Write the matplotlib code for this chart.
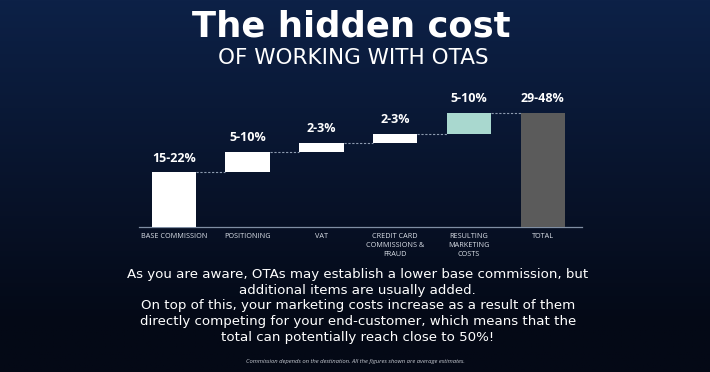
import numpy as np
import matplotlib.pyplot as plt

categories = ["BASE COMMISSION", "POSITIONING", "VAT", "CREDIT CARD\nCOMMISSIONS &\nFRAUD",
              "RESULTING\nMARKETING\nCOSTS", "TOTAL"]
steps = [18.5, 7.0, 3.0, 3.0, 7.0]
range_labels = ["15-22%", "5-10%", "2-3%", "2-3%", "5-10%", "29-48%"]

total = sum(steps)
bottoms = list(np.cumsum([0] + steps[:-1])) + [0]
heights = steps + [total]
colors = ["white", "white", "white", "white", "#a9d8cf", "#5b5b5b"]

W, H = 710, 372
fig = plt.figure(figsize=(W / 100, H / 100), dpi=100)

# background gradient
bg = fig.add_axes([0, 0, 1, 1])
yy = np.linspace(0, 1, 200)[:, None]
xx = np.linspace(0, 1, 300)[None, :]
top = np.array([0x0d, 0x21, 0x47]) / 255
bot = np.array([0x04, 0x09, 0x16]) / 255
t = np.clip(yy * 1.15, 0, 1) + 0 * xx
img = top[None, None, :] * (1 - t[..., None]) + bot[None, None, :] * t[..., None]
bg.imshow(img, aspect="auto", extent=[0, 1, 0, 1], origin="upper")
bg.set_xlim(0, 1)
bg.set_ylim(0, 1)
bg.axis("off")

# titles and body text
fig.text(0.495, 0.93, "The hidden cost", ha="center", va="center", color="white",
         fontsize=25.5, fontweight="bold", family="DejaVu Sans")
fig.text(0.497, 0.843, "OF WORKING WITH OTAS", ha="center", va="center", color="white",
         fontsize=15.5, family="DejaVu Sans")

body = ("As you are aware, OTAs may establish a lower base commission, but\n"
        "additional items are usually added.\n"
        "On top of this, your marketing costs increase as a result of them\n"
        "directly competing for your end-customer, which means that the\n"
        "total can potentially reach close to 50%!")
fig.text(0.504, 0.178, body, ha="center", va="center", color="white",
         fontsize=9.6, family="DejaVu Sans", linespacing=1.27)
fig.text(0.5, 0.027, "Commission depends on the destination. All the figures shown are average estimates.",
         ha="center", va="center", color="#c8ccd4", fontsize=4.2, style="italic",
         family="Open Sans")

# waterfall chart
ax = fig.add_axes([139 / W, (H - 227) / H, (582 - 139) / W, 137 / H])
ax.patch.set_alpha(0)
x = np.arange(len(categories))
ax.bar(x, heights, bottom=bottoms, width=0.6, color=colors, zorder=3)

levels = np.cumsum(steps)
for i, lv in enumerate(levels):
    ax.plot([i + 0.3, i + 0.7], [lv, lv], color="#8d9bb0", lw=0.8, ls=(0, (2, 1.5)), zorder=2)

for i, lab in enumerate(range_labels):
    ax.text(x[i], bottoms[i] + heights[i] + 2.6, lab, ha="center", va="bottom",
            color="white", fontsize=9, fontweight="bold", family="Open Sans")

ax.set_xlim(-0.47, 5.53)
ax.set_ylim(0, 46.3)
ax.set_xticks(x)
ax.set_xticklabels(categories, fontsize=5.2, color="#dbe0e8", family="Open Sans",
                   linespacing=1.4, va="top")
ax.tick_params(axis="x", length=0, pad=4)
ax.set_yticks([])
for s in ["top", "right", "left"]:
    ax.spines[s].set_visible(False)
ax.spines["bottom"].set_color("#7f8ea3")
ax.spines["bottom"].set_linewidth(0.9)

fig.savefig("out.png", dpi=100)
